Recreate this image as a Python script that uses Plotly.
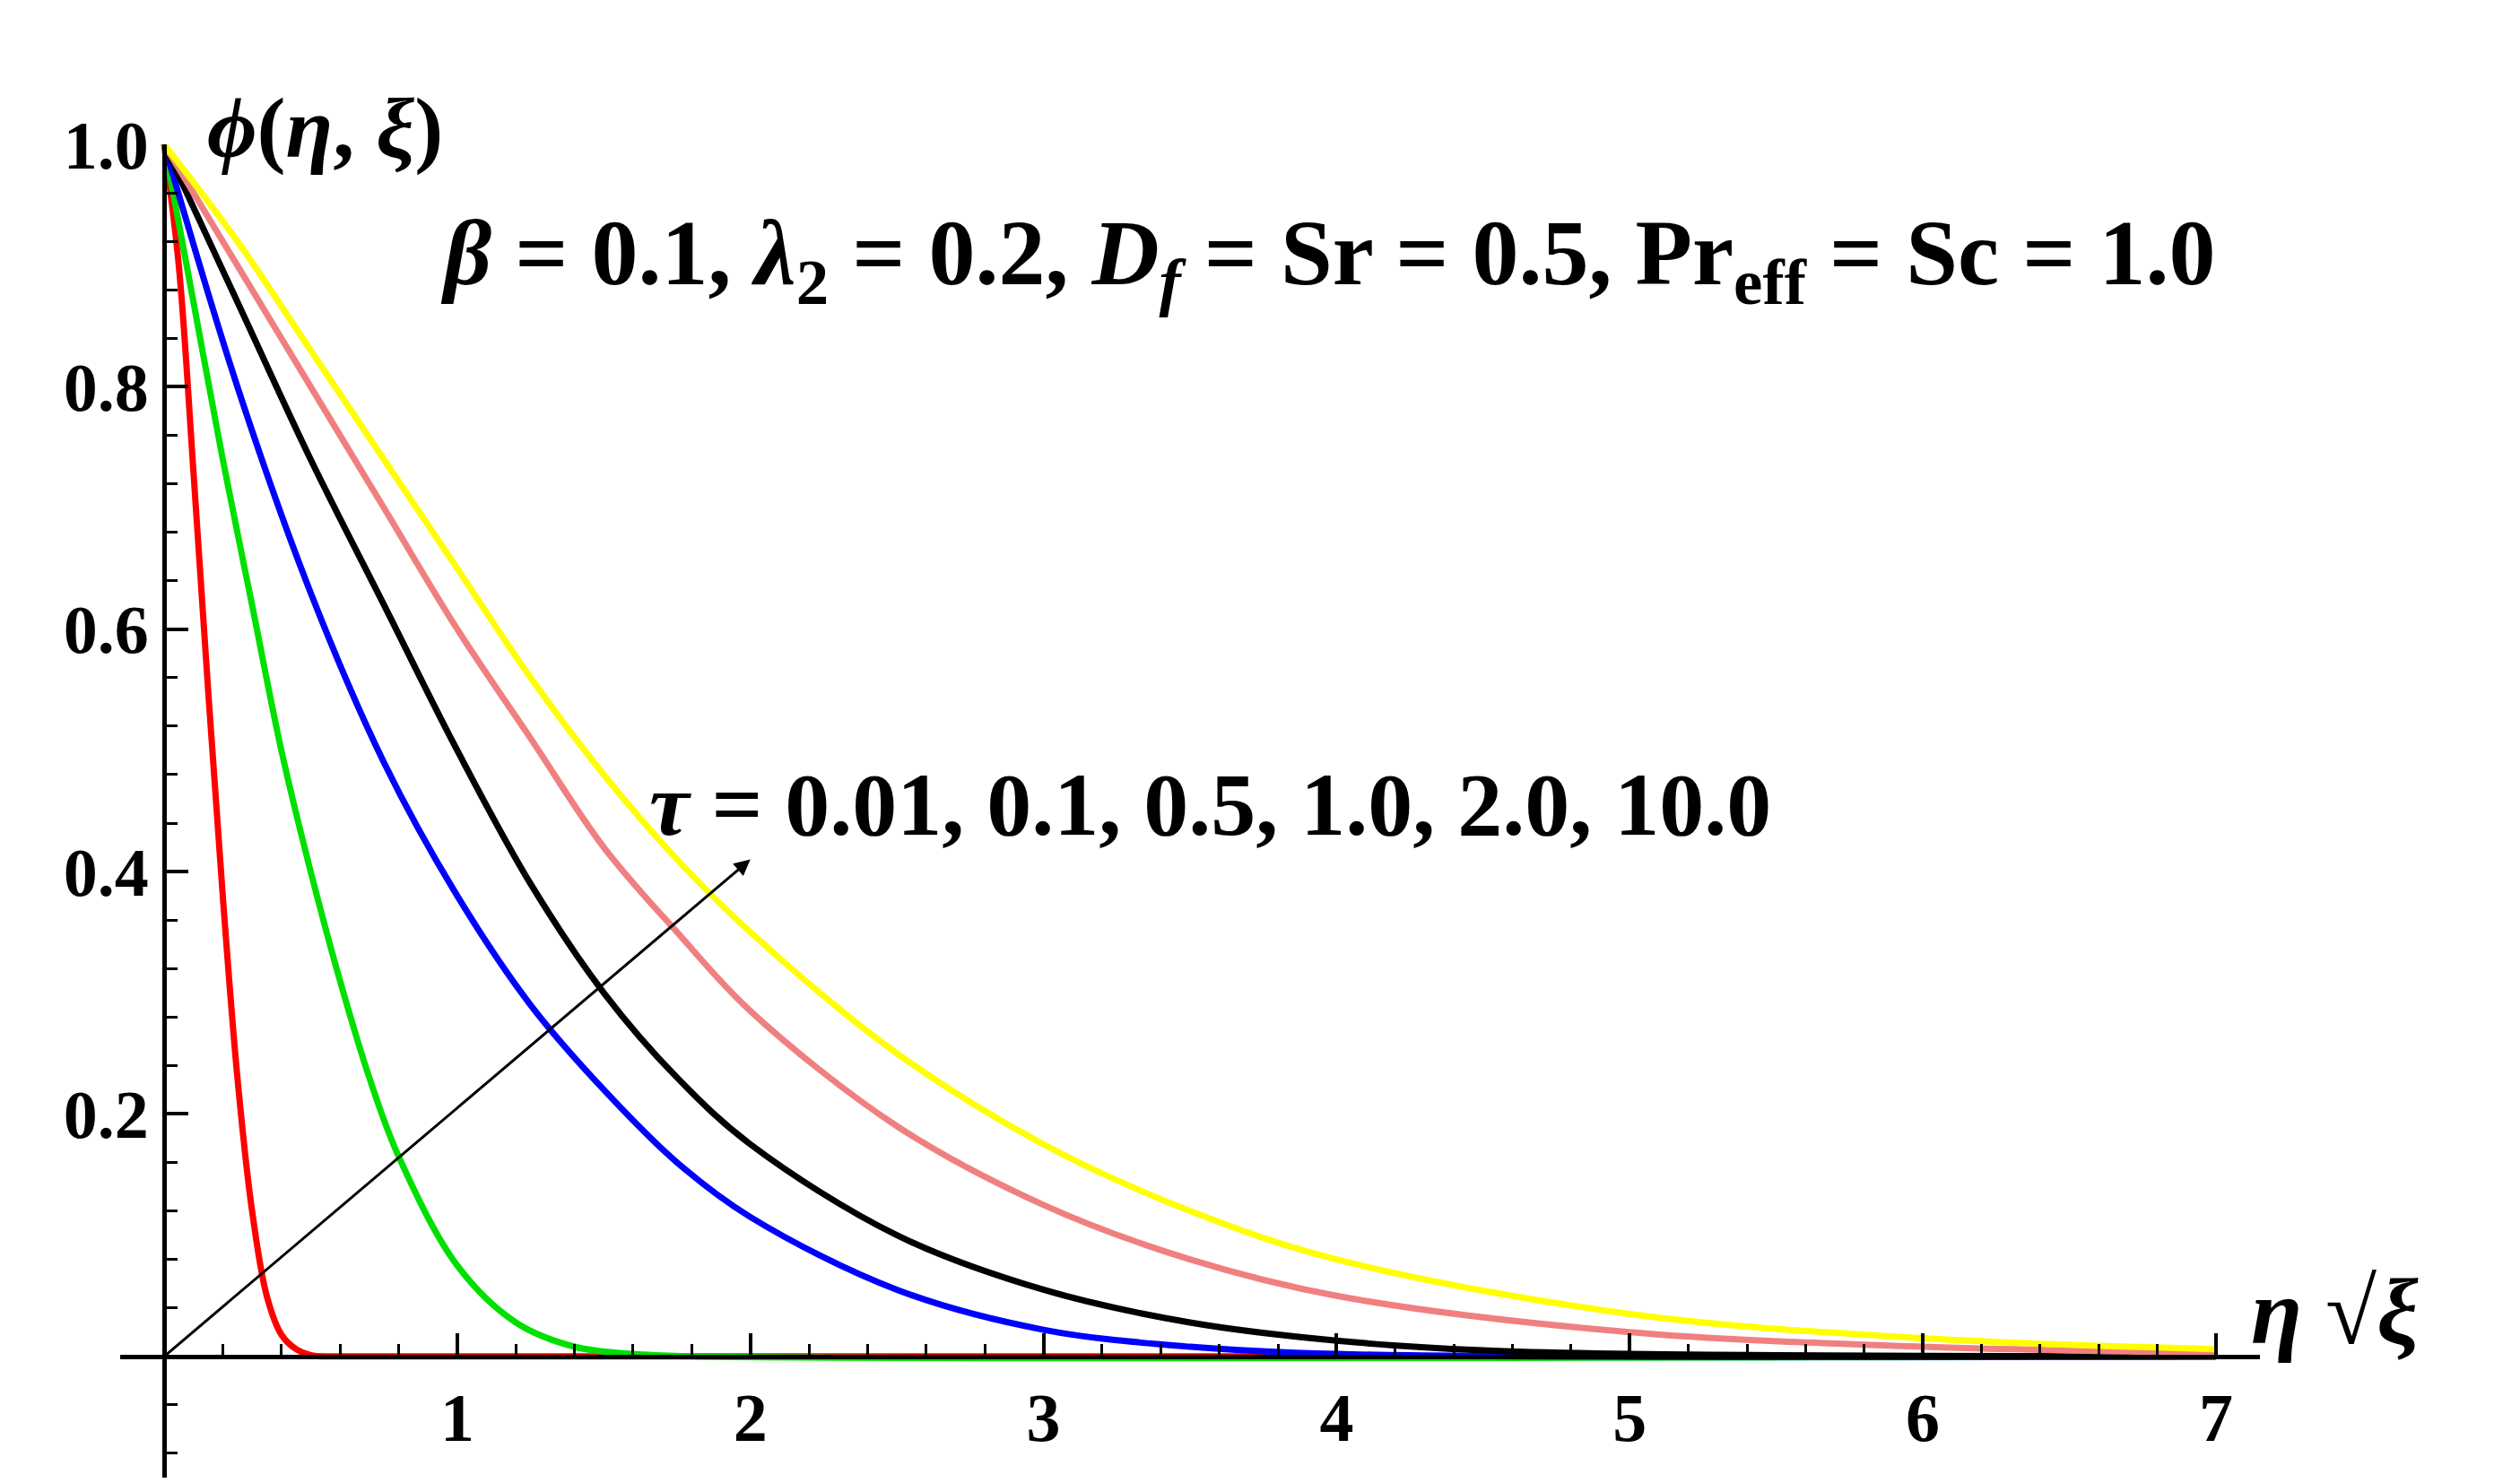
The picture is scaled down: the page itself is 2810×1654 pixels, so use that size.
import plotly.graph_objects as go

red_x = [0, 0.05, 0.1, 0.15, 0.2, 0.25, 0.3, 0.35, 0.4, 0.45, 0.5, 0.6, 7]
red_y = [1, 0.9, 0.73, 0.55, 0.38, 0.23, 0.12, 0.05, 0.018, 0.006, 0.001, 0, 0]
green_x = [0, 0.1, 0.2, 0.3, 0.4, 0.5, 0.6, 0.7, 0.8, 1.0, 1.2, 1.4, 1.6, 1.8, 7]
green_y = [1, 0.87, 0.74, 0.62, 0.5, 0.4, 0.31, 0.23, 0.165, 0.075, 0.028, 0.008, 0.002, 0, 0]
blue_x = [0, 0.25, 0.5, 0.75, 1.0, 1.25, 1.5, 1.75, 2.0, 2.5, 3.0, 3.5, 4.0, 7]
blue_y = [1, 0.8, 0.63, 0.49, 0.38, 0.29, 0.22, 0.16, 0.115, 0.055, 0.022, 0.008, 0.002, 0]
black_x = [0, 0.25, 0.5, 0.75, 1.0, 1.25, 1.5, 1.75, 2.0, 2.5, 3.0, 3.5, 4.0, 4.5, 5.0, 7]
black_y = [1, 0.87, 0.74, 0.62, 0.5, 0.39, 0.3, 0.23, 0.175, 0.1, 0.055, 0.028, 0.013, 0.005, 0.002, 0]
pink_x = [0, 0.25, 0.5, 0.75, 1.0, 1.25, 1.5, 1.75, 2.0, 2.5, 3.0, 3.5, 4.0, 5.0, 6.0, 7.0]
pink_y = [1, 0.9, 0.8, 0.7, 0.6, 0.51, 0.42, 0.35, 0.285, 0.19, 0.125, 0.08, 0.05, 0.02, 0.008, 0.003]
yellow_x = [0, 0.25, 0.5, 0.75, 1.0, 1.25, 1.5, 1.75, 2.0, 2.5, 3.0, 3.5, 4.0, 5.0, 6.0, 7.0]
yellow_y = [1, 0.92, 0.83, 0.74, 0.65, 0.56, 0.48, 0.41, 0.35, 0.25, 0.175, 0.12, 0.08, 0.035, 0.015, 0.006]

series = [(red_x, red_y, "red"), (green_x, green_y, "#00e000"), (blue_x, blue_y, "blue"),
          (black_x, black_y, "black"), (pink_x, pink_y, "#f08080"), (yellow_x, yellow_y, "#ffff00")]

fig = go.Figure()
for xs, ys, c in series:
    fig.add_trace(go.Scatter(x=xs, y=ys, mode="lines", line=dict(color=c, width=7, shape="spline", smoothing=1.0),
                             showlegend=False))

tickfont = dict(family="Liberation Serif", size=76, color="black", weight="bold")
fig.update_layout(
    width=2810, height=1654, plot_bgcolor="white", paper_bgcolor="white",
    margin=dict(l=126, r=298, t=153, b=14),
    xaxis=dict(range=[-0.15, 7.15], anchor="free", position=0.1/1.1, showline=True, linecolor="black", linewidth=5,
               showgrid=False, zeroline=False, tickvals=[1, 2, 3, 4, 5, 6, 7], ticks="inside", ticklen=24, tickwidth=4,
               tickcolor="black", tickfont=tickfont,
               minor=dict(dtick=0.2, ticks="inside", ticklen=12, tickwidth=3, tickcolor="black")),
    yaxis=dict(range=[-0.1, 1.0], anchor="free", position=0.15/7.3, showline=True, linecolor="black", linewidth=5,
               showgrid=False, zeroline=False, tickvals=[0.2, 0.4, 0.6, 0.8, 1.0], ticktext=["0.2", "0.4", "0.6", "0.8", "1.0"],
               ticks="inside", ticklen=24, tickwidth=4, tickcolor="black", tickfont=tickfont,
               minor=dict(dtick=0.04, ticks="inside", ticklen=12, tickwidth=3, tickcolor="black")),
)
fig.add_annotation(x=2.0, y=0.41, ax=0, ay=0, xref="x", yref="y", axref="x", ayref="y", showarrow=True,
                   arrowhead=2, arrowsize=1.2, arrowwidth=3, arrowcolor="black", text="")
fig.add_annotation(x=3.57, y=0.455, text="<b><i>τ</i> = 0.01, 0.1, 0.5, 1.0, 2.0, 10.0</b>", showarrow=False,
                   font=dict(family="Liberation Serif", size=100, color="black"))
fig.add_annotation(x=3.97, y=0.905, text="<b><i>β</i> = 0.1, <i>λ</i><sub>2</sub> = 0.2, <i>D<sub>f</sub></i> = Sr = 0.5, Pr<sub>eff</sub> = Sc = 1.0</b>",
                   showarrow=False, font=dict(family="Liberation Serif", size=104, color="black"))
fig.add_annotation(x=0.04, y=1.05, xref="paper", yref="paper", text="<b><i>ϕ</i>(<i>η</i>, <i>ξ</i>)</b>", showarrow=False,
                   font=dict(family="Liberation Serif", size=96, color="black"))
fig.add_annotation(x=1.075, y=0.085, xref="paper", yref="paper", text="<b><i>η</i> √<i>ξ</i></b>",
                   showarrow=False, font=dict(family="Liberation Serif", size=104, color="black"))
fig.write_html("out.html")
